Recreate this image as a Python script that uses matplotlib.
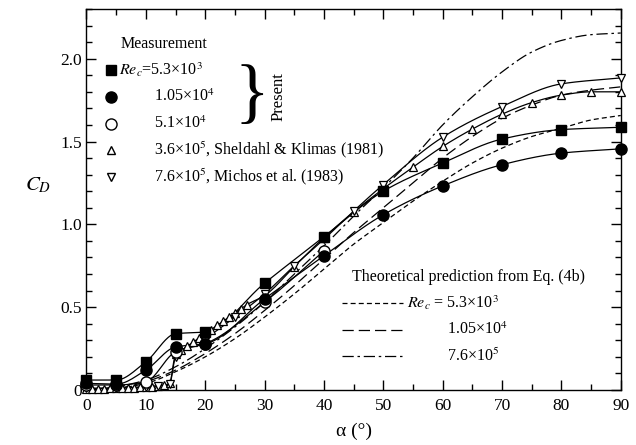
import numpy as np
import matplotlib
matplotlib.use("Agg")
import matplotlib.pyplot as plt
from matplotlib.lines import Line2D

plt.rcParams['font.family'] = ['Liberation Serif', 'DejaVu Serif']
plt.rcParams['mathtext.fontset'] = 'stix'

# ---------------- data ----------------
# Present measurements
alpha_sq = [0, 5, 10, 15, 20, 30, 40, 50, 60, 70, 80, 90]
cd_sq = [0.06, 0.06, 0.17, 0.34, 0.35, 0.645, 0.925, 1.20, 1.37, 1.515, 1.572, 1.586]

alpha_fc = [0, 5, 10, 15, 20, 30, 40, 50, 60, 70, 80, 90]
cd_fc = [0.04, 0.035, 0.12, 0.26, 0.28, 0.55, 0.81, 1.058, 1.232, 1.36, 1.43, 1.456]

alpha_oc = [0, 5, 10, 15, 20, 30, 40]
cd_oc = [0.03, 0.03, 0.05, 0.23, 0.28, 0.53, 0.84]

# Sheldahl & Klimas (1981), Re = 3.6e5
alpha_sk = [0, 1, 2, 3, 4, 5, 6, 7, 8, 9, 10, 11, 12, 13, 14, 15, 16, 17, 18, 19,
            20, 21, 22, 23, 24, 25, 26, 27, 30, 35, 40, 45, 50, 55, 60, 65, 70,
            75, 80, 85, 90]
cd_sk = [0.008, 0.009, 0.009, 0.009, 0.010, 0.011, 0.012, 0.013, 0.014, 0.016,
         0.018, 0.021, 0.025, 0.029, 0.040, 0.215, 0.24, 0.265, 0.29, 0.315,
         0.34, 0.365, 0.39, 0.415, 0.44, 0.465, 0.49, 0.515, 0.57, 0.745,
         0.92, 1.075, 1.215, 1.345, 1.47, 1.575, 1.665, 1.735, 1.78, 1.80, 1.80]

# Michos et al. (1983), Re = 7.6e5
alpha_mi = [0, 5, 10, 12, 14, 15, 20, 25, 30, 35, 40, 45, 50, 60, 70, 80, 90]
cd_mi = [0.01, 0.012, 0.02, 0.025, 0.035, 0.20, 0.31, 0.44, 0.58, 0.75, 0.91,
         1.08, 1.24, 1.526, 1.711, 1.848, 1.884]

# Theoretical prediction, Eq. (4b)
alpha_th = [0, 5, 10, 15, 20, 25, 30, 35, 40, 45, 50, 55, 60, 65, 70, 75, 80, 85, 90]
cd_th_53e3 = [0.0, 0.01, 0.04, 0.11, 0.20, 0.31, 0.44, 0.58, 0.73, 0.88, 1.01,
              1.14, 1.26, 1.37, 1.46, 1.53, 1.58, 1.63, 1.657]
cd_th_105e4 = [0.0, 0.01, 0.05, 0.12, 0.22, 0.34, 0.48, 0.63, 0.79, 0.95, 1.10,
               1.25, 1.40, 1.53, 1.64, 1.72, 1.78, 1.81, 1.83]
cd_th_76e5 = [0.0, 0.02, 0.06, 0.14, 0.25, 0.38, 0.53, 0.70, 0.87, 1.05, 1.22,
              1.40, 1.60, 1.77, 1.92, 2.04, 2.11, 2.145, 2.155]


def smooth(x, y, n=400):
    """Monotone cubic (Fritsch-Carlson) curve through the data points."""
    x = np.asarray(x, float)
    y = np.asarray(y, float)
    h = np.diff(x)
    d = np.diff(y) / h
    m = np.zeros_like(y)
    m[0], m[-1] = d[0], d[-1]
    for i in range(1, len(x) - 1):
        if d[i - 1] * d[i] <= 0:
            m[i] = 0.0
        else:
            w1 = 2 * h[i] + h[i - 1]
            w2 = h[i] + 2 * h[i - 1]
            m[i] = (w1 + w2) / (w1 / d[i - 1] + w2 / d[i])
    xs = np.linspace(x[0], x[-1], n)
    idx = np.clip(np.searchsorted(x, xs) - 1, 0, len(x) - 2)
    t = (xs - x[idx]) / h[idx]
    h00 = 2 * t**3 - 3 * t**2 + 1
    h10 = t**3 - 2 * t**2 + t
    h01 = -2 * t**3 + 3 * t**2
    h11 = t**3 - t**2
    ys = h00 * y[idx] + h10 * h[idx] * m[idx] + h01 * y[idx + 1] + h11 * h[idx] * m[idx + 1]
    return xs, ys


fig = plt.figure(figsize=(6.36, 4.45), dpi=100)
ax = fig.add_axes([0.136, 0.1236, 0.840, 0.8562])

lw = 0.9
# theoretical curves
ax.plot(*smooth(alpha_th, cd_th_53e3), color='black', lw=lw, ls=(0, (4, 2.5)))
ax.plot(*smooth(alpha_th, cd_th_105e4), color='black', lw=lw, ls=(0, (9, 4)))
ax.plot(*smooth(alpha_th, cd_th_76e5), color='black', lw=lw, ls=(0, (9, 3, 2, 3)))

# fitted solid lines through measurements
for a, c in [(alpha_sq, cd_sq), (alpha_fc, cd_fc), (alpha_oc, cd_oc),
             (alpha_sk, cd_sk), (alpha_mi, cd_mi)]:
    ax.plot(*smooth(a, c), color='black', lw=lw)

mk = dict(ls='none', color='black', mec='black', clip_on=False, zorder=5)
ax.plot(alpha_sk, cd_sk, marker='^', ms=6, mfc='white', mew=0.9, **mk)
ax.plot(alpha_mi, cd_mi, marker='v', ms=6, mfc='white', mew=0.9, **mk)
ax.plot(alpha_oc, cd_oc, marker='o', ms=8, mfc='white', mew=1.0, **mk)
ax.plot(alpha_fc, cd_fc, marker='o', ms=8, mfc='black', **mk)
ax.plot(alpha_sq, cd_sq, marker='s', ms=7, mfc='black', **mk)

ax.set_xlim(0, 90)
ax.set_ylim(0, 2.3)
ax.set_xticks(np.arange(0, 91, 10))
ax.set_xticks(np.arange(0, 91, 5), minor=True)
ax.set_yticks([0, 0.5, 1.0, 1.5, 2.0])
ax.set_yticklabels(['0', '0.5', '1.0', '1.5', '2.0'])
ax.set_yticks(np.arange(0, 2.31, 0.1), minor=True)
ax.tick_params(which='both', direction='in', top=True, right=True, labelsize=12.5,
               width=1.0)
ax.tick_params(which='major', length=7)
ax.tick_params(which='minor', length=4)
ax.tick_params(axis='x', pad=6)
for s in ax.spines.values():
    s.set_linewidth(1.0)

ax.set_xlabel('α (°)', fontsize=14, labelpad=6)
ax.set_ylabel('$C_D$', fontsize=15, rotation=0, labelpad=22)
ax.yaxis.set_label_coords(-0.09, 0.51)

# ---- measurement legend (top-left) ----
fs = 11.5
def px(x, y):
    return (x / 636.0, 1 - y / 445.0)

fig.text(*px(121, 44), 'Measurement', fontsize=fs, va='center', ha='left')
entries = [
    ('s', 'black', 7, 70, r'$Re_c$=5.3×10$^3$', 119),
    ('o', 'black', 8, 97, '1.05×10$^4$', 154),
    ('o', 'white', 8, 124, '5.1×10$^4$', 154),
    ('^', 'white', 6, 150, '3.6×10$^5$, Sheldahl & Klimas (1981)', 154),
    ('v', 'white', 6, 177, '7.6×10$^5$, Michos et al. (1983)', 154),
]
for m, fc, ms, y, label, tx in entries:
    fig.add_artist(Line2D([111 / 636.0], [1 - y / 445.0], marker=m, ms=ms,
                          mfc=fc, mec='black', mew=1.0, ls='none',
                          transform=fig.transFigure))
    fig.text(*px(tx, y), label, fontsize=fs, va='center', ha='left')

fig.text(*px(252, 96), '}', fontsize=52, va='center', ha='center',
         fontweight='light')
fig.text(*px(279, 97), 'Present', fontsize=fs + 0.5, va='center', ha='center',
         rotation=90)

# ---- theory legend (bottom-right) ----
fig.text(*px(352, 277), 'Theoretical prediction from Eq. (4b)', fontsize=fs,
         va='center', ha='left')
rows = [((0, (4, 2.5)), 303, r'$Re_c$ = 5.3×10$^3$', 407),
        ((0, (9, 4)), 330, '1.05×10$^4$', 447),
        ((0, (9, 3, 2, 3)), 356, '7.6×10$^5$', 447)]
for ls, y, label, tx in rows:
    fig.add_artist(Line2D([342 / 636.0, 403 / 636.0], [1 - y / 445.0] * 2,
                          color='black', lw=lw, ls=ls,
                          transform=fig.transFigure))
    fig.text(*px(tx, y), label, fontsize=fs, va='center', ha='left')

fig.savefig('out.png', dpi=100)
